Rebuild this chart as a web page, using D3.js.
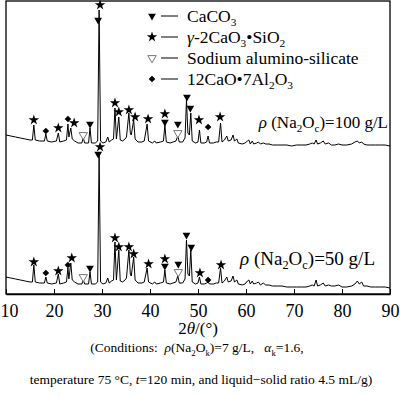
<!DOCTYPE html>
<html>
<head>
<meta charset="utf-8">
<script src="https://cdn.jsdelivr.net/npm/d3@7"></script>
<style>
  body { margin: 0; background: #fff; }
  svg { display: block; font-family: "Liberation Serif", "Times New Roman", serif; }
</style>
</head>
<body>
<svg id="chart" width="400" height="397"></svg>
<script>
// XRD patterns: [2theta, intensity a.u.]
const pattern50 = [[10,17],[11,16],[12,15],[13,14],[14,13],[15,12],[15.5,12],[15.8,29],[16.1,12],[17,11],[18,11],[18.3,17],[18.6,11],[19.5,10],[20.5,11],[20.9,20],[21.2,10],[22,11],[22.6,12],[22.9,26],[23.1,15],[23.5,31],[23.8,14],[24.3,12],[25,10],[25.8,10],[26.1,14],[26.4,10],[27.2,10],[27.5,22],[27.8,10],[28.6,10],[29.1,12],[29.4,140],[29.7,12],[30.2,10],[30.8,11],[31.2,16],[31.5,11],[32,13],[32.4,14],[32.7,52],[33,14],[33.5,44],[33.8,13],[34.3,12],[34.8,14],[35.1,16],[35.6,44],[35.9,20],[36.1,18],[36.6,37],[36.9,14],[37.5,11],[38.3,11],[38.8,12],[39.4,26],[39.7,12],[40.5,10],[41,12],[41.3,10],[42.2,11],[42.8,12],[43.1,24],[43.4,11],[44.2,10],[44.8,11],[45.4,12],[45.8,18],[46.1,11],[46.8,11],[47.3,15],[47.6,54],[47.9,20],[48.2,18],[48.5,44],[48.8,12],[49.5,10],[50,11],[50.3,17],[50.6,10],[51.3,10],[51.8,11],[52.1,12],[52.4,10],[53.2,10],[53.8,11],[54.3,11],[54.7,26],[55,11],[55.5,13],[56,17],[56.3,12],[56.9,13],[57.3,18],[57.6,12],[58.1,14],[58.4,10],[59.2,9],[59.8,10],[60.3,13],[60.6,14],[60.9,10],[61.3,13],[61.6,10],[62.2,11],[62.6,12],[63,9],[63.6,11],[64.1,9],[64.8,9],[65.5,8],[66.5,8],[67.5,8],[68.5,7],[69.5,7],[70.5,7],[71.5,7],[72.5,7],[73.3,8],[73.8,9],[74.2,8],[74.6,14],[74.9,8],[75.5,9],[76.1,11],[76.5,8],[77.2,9],[77.8,8],[78.5,8],[79.3,9],[80,7],[81,7],[82,8],[82.7,10],[83.2,13],[83.6,10],[84.1,12],[84.5,8],[85.2,8],[86,7],[87,7],[88,7],[89,7],[90,6]];

const pattern100 = [[10,14],[11,13],[12,12],[13,11],[14,10],[15,9],[15.5,9],[15.8,24],[16.1,9],[17,8],[18,8],[18.3,15],[18.6,8],[19.5,7],[20.5,8],[20.9,16],[21.2,7],[22,8],[22.6,9],[22.9,25],[23.1,12],[23.5,21],[23.8,10],[24.3,8],[25,6],[25.8,6],[26.1,11],[26.4,6],[27.2,6],[27.5,21],[27.8,6],[28.6,6],[29.1,8],[29.4,139],[29.7,8],[30.2,6],[30.8,7],[31.2,12],[31.5,7],[32,9],[32.4,10],[32.7,41],[33,10],[33.5,32],[33.8,9],[34.3,8],[34.8,10],[35.1,12],[35.6,36],[35.9,16],[36.1,14],[36.6,29],[36.9,10],[37.5,7],[38.3,7],[38.8,8],[39.4,25],[39.7,8],[40.5,6],[41,8],[41.3,6],[42.2,7],[42.8,8],[43.1,24],[43.4,7],[44.2,6],[44.8,7],[45.4,8],[45.8,13],[46.1,7],[46.8,7],[47.3,11],[47.6,49],[47.9,16],[48.2,14],[48.5,36],[48.8,8],[49.5,6],[50,7],[50.3,19],[50.6,6],[51.3,6],[51.8,7],[52.1,13],[52.4,6],[53.2,6],[53.8,7],[54.3,7],[54.7,26],[55,7],[55.5,9],[56,13],[56.3,8],[56.9,9],[57.3,14],[57.6,8],[58.1,10],[58.4,6],[59.2,5],[59.8,6],[60.3,8],[60.6,9],[60.9,5],[61.3,8],[61.6,5],[62.2,6],[62.6,7],[63,5],[63.6,6],[64.1,5],[64.8,5],[65.5,4],[66.5,4],[67.5,4],[68.5,4],[69.5,3],[70.5,4],[71.5,4],[72.5,4],[73.3,5],[73.8,6],[74.2,5],[74.6,9],[74.9,5],[75.5,6],[76.1,8],[76.5,5],[77.2,6],[77.8,4],[78.5,4],[79.3,5],[80,4],[81,4],[82,5],[82.7,7],[83.2,8],[83.6,6],[84.1,7],[84.5,5],[85.2,4],[86,4],[87,4],[88,4],[89,4],[90,3]];

// phase markers: [2theta, intensity, phase]
const marks100 = [[15.8,29,"s"],[18.3,18,"d"],[20.9,21,"s"],[22.9,30,"d"],[24.2,26,"s"],[26.1,14,"o"],[27.5,25,"c"],[29.2,129,"c"],[29.6,144,"s"],[32.7,46,"s"],[33.5,37,"s"],[35.6,39,"s"],[36.9,32,"s"],[39.6,30,"s"],[43.1,35,"s"],[43.1,27,"c"],[45.8,25,"c"],[45.8,16,"o"],[47.7,52,"c"],[48.4,41,"c"],[50.2,29,"s"],[52.1,22,"d"],[54.6,32,"s"]];
const marks50 = [[15.8,32,"s"],[18.3,21,"d"],[20.9,23,"s"],[22.9,29,"d"],[23.7,36,"s"],[26.1,17,"o"],[27.5,26,"c"],[29.2,140,"c"],[29.6,147,"s"],[32.7,56,"s"],[33.5,47,"s"],[35.6,47,"s"],[36.6,40,"s"],[39.7,30,"s"],[43.1,35,"s"],[43.1,28,"c"],[45.9,30,"c"],[45.9,22,"o"],[47.6,59,"c"],[48.6,47,"c"],[50.4,21,"s"],[52.1,14,"d"],[54.8,29,"s"]];

const offsets = { p100: 145, p50: 0 };
const xTicks = [10, 20, 30, 40, 50, 60, 70, 80, 90];

const svg = d3.select("#chart");
const x = d3.scaleLinear().domain([10, 90]).range([6, 390]);
const y = d3.scaleLinear().domain([0, 293]).range([294, 1]);

const line = d3.line().x(d => x(d[0])).y(d => y(d[1]));

// frame
svg.append("rect").attr("x", 6).attr("y", 1).attr("width", 384).attr("height", 293)
  .attr("fill", "none").attr("stroke", "#000").attr("stroke-width", 1.3);

// axis, ticks inward
const ax = svg.append("g").attr("transform", "translate(0,294)")
  .call(d3.axisBottom(x).tickValues(xTicks).tickSizeInner(-5).tickSizeOuter(0).tickPadding(10));
ax.select(".domain").attr("stroke-width", 1.3);
ax.selectAll("text").attr("font-size", 18).attr("font-family", "Liberation Serif").attr("fill", "#000");
// keep first label inside the window
ax.selectAll(".tick").filter(d => d === 10).select("text").attr("text-anchor", "start").attr("x", -6);

// patterns
svg.append("path").datum(pattern100.map(d => [d[0], d[1] + offsets.p100]))
  .attr("d", line).attr("fill", "none").attr("stroke", "#000").attr("stroke-width", 1);
svg.append("path").datum(pattern50)
  .attr("d", line).attr("fill", "none").attr("stroke", "#000").attr("stroke-width", 1);

// symbols
function drawSym(g, kind) {
  if (kind === "c") {
    g.append("path").attr("d", d3.symbol(d3.symbolTriangle, 26)()).attr("transform", "rotate(180)").attr("fill", "#000");
  } else if (kind === "s") {
    g.append("path").attr("d", d3.symbol(d3.symbolStar, 34)()).attr("fill", "#000");
  } else if (kind === "d") {
    g.append("path").attr("d", d3.symbol(d3.symbolSquare, 22)()).attr("transform", "rotate(45)").attr("fill", "#000");
  } else {
    g.append("path").attr("d", d3.symbol(d3.symbolTriangle, 30)()).attr("transform", "rotate(180)")
      .attr("fill", "#fff").attr("stroke", "#777").attr("stroke-width", 1);
  }
}
[[marks100, offsets.p100], [marks50, offsets.p50]].forEach(([marks, off]) => {
  marks.forEach(m => {
    const g = svg.append("g").attr("transform", `translate(${x(m[0])},${y(m[1] + off)})`);
    drawSym(g, m[2]);
  });
});

// legend
const legendItems = [
  { k: "c", parts: [["CaCO", 0], ["3", 1]] },
  { k: "s", parts: [["γ", 2], ["-2CaO", 0], ["3", 1], ["•SiO", 0], ["2", 1]] },
  { k: "o", parts: [["Sodium alumino-silicate", 0]] },
  { k: "d", parts: [["12CaO•7Al", 0], ["2", 1], ["O", 0], ["3", 1]] }
];
function richText(t, parts, size) {
  let sub = false;
  parts.forEach(p => {
    const ts = t.append("tspan").text(p[0]);
    if (p[1] === 1) { ts.attr("font-size", size * 0.65).attr("dy", sub ? 0 : 4); sub = true; }
    else { if (sub) ts.attr("dy", -4); sub = false; }
    if (p[1] === 2) ts.attr("font-style", "italic");
  });
}
legendItems.forEach((it, i) => {
  const yy = 16 + i * 21;
  const g = svg.append("g").attr("transform", `translate(152,${yy})`);
  drawSym(g, it.k);
  svg.append("line").attr("x1", 161).attr("x2", 178).attr("y1", yy).attr("y2", yy).attr("stroke", "#000").attr("stroke-width", 1);
  const t = svg.append("text").attr("x", 187).attr("y", yy + 6).attr("font-size", 17.5);
  richText(t, it.parts, 17.5);
});

// pattern labels
function rhoLabel(xx, yy, size, val) {
  const t = svg.append("text").attr("x", xx).attr("y", yy).attr("font-size", size).attr("text-anchor", "end");
  richText(t, [["ρ", 2], [" (Na", 0], ["2", 1], ["O", 0], ["c", 1], [")=" + val + " g/L", 0]], size);
}
rhoLabel(388, 128, 17, "100");
rhoLabel(375, 265, 19, "50");

// axis title
const xt = svg.append("text").attr("x", 198).attr("y", 334).attr("text-anchor", "middle").attr("font-size", 17);
xt.append("tspan").text("2");
xt.append("tspan").text("θ").attr("font-style", "italic");
xt.append("tspan").text("/(°)");

// caption
const c1 = svg.append("text").attr("x", 197).attr("y", 352).attr("text-anchor", "middle").attr("font-size", 13.5)
  .style("white-space", "pre");
richText(c1, [["(Conditions:  ", 0], ["ρ", 2], ["(Na", 0], ["2", 1], ["O", 0], ["k", 1], [")=7 g/L,   ", 0], ["α", 2], ["k", 1], ["=1.6,", 0]], 13.5);
const c2 = svg.append("text").attr("x", 201).attr("y", 384).attr("text-anchor", "middle").attr("font-size", 13.5);
richText(c2, [["temperature 75 °C, ", 0], ["t", 2], ["=120 min, and liquid−solid ratio 4.5 mL/g)", 0]], 13.5);
</script>
</body>
</html>
